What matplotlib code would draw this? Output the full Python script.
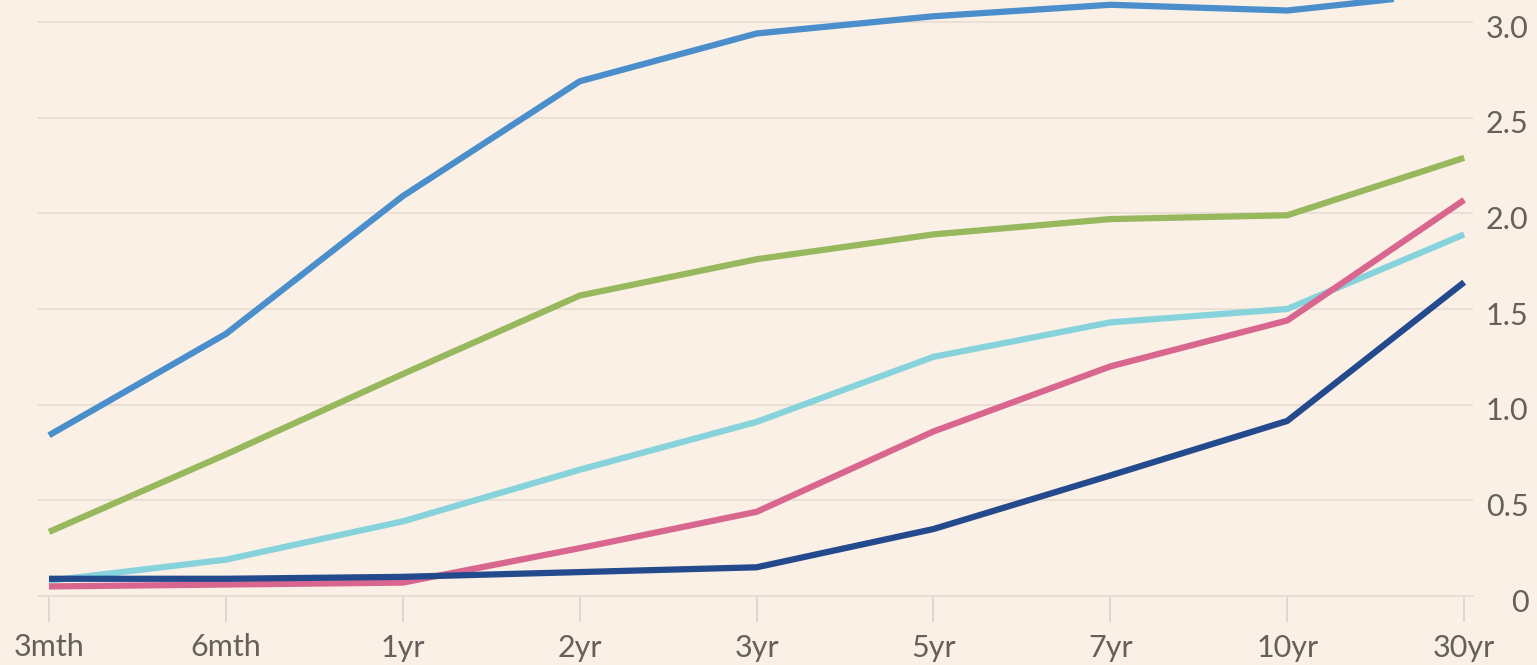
import matplotlib
matplotlib.use("Agg")
import matplotlib.pyplot as plt
import matplotlib.transforms as mtransforms

# Maturities along the curve
maturities = ["3mth", "6mth", "1yr", "2yr", "3yr", "5yr", "7yr", "10yr", "30yr"]

# Yield curves (%)
curve_blue = [0.84, 1.37, 2.09, 2.69, 2.94, 3.03, 3.09, 3.06, 3.16]
curve_green = [0.335, 0.74, 1.16, 1.57, 1.76, 1.89, 1.97, 1.99, 2.29]
curve_cyan = [0.08, 0.19, 0.39, 0.66, 0.91, 1.25, 1.43, 1.50, 1.89]
curve_pink = [0.05, 0.06, 0.07, 0.25, 0.44, 0.86, 1.20, 1.44, 2.07]
curve_navy = [0.09, 0.09, 0.10, 0.125, 0.15, 0.35, 0.63, 0.915, 1.64]

y_ticks = [0, 0.5, 1.0, 1.5, 2.0, 2.5, 3.0]
y_labels = ["0", "0.5", "1.0", "1.5", "2.0", "2.5", "3.0"]

bg = "#faf0e6"
grid_col = "#e8ded4"
text_col = "#66605c"

plt.rcParams["font.family"] = ["Lato", "DejaVu Sans"]

W, H = 1537, 665
fig = plt.figure(figsize=(W / 100, H / 100), dpi=100, facecolor=bg)
ax = fig.add_axes([38 / W, 1 - 596 / H, (1473 - 38) / W, 596 / H])
ax.set_facecolor(bg)

x = list(range(len(maturities)))
series = [
    (curve_blue, "#4a8ecb"),
    (curve_green, "#98b85e"),
    (curve_cyan, "#87d3dc"),
    (curve_pink, "#d8668f"),
    (curve_navy, "#234a8c"),
]
for vals, col in series:
    ax.plot(x, vals, color=col, linewidth=4.5, solid_capstyle="butt",
            solid_joinstyle="round", zorder=3)

ax.set_xlim(-0.0622, 8.05)
ax.set_ylim(0, 3.115)

# y axis on the right, labels right-aligned and nudged just below the gridline
ax.yaxis.tick_right()
ax.set_yticks(y_ticks)
ax.set_yticklabels(y_labels)
ax.tick_params(axis="y", length=0, pad=40, labelsize=22, labelcolor=text_col)
shift = mtransforms.ScaledTranslation(0, -4 / 100, fig.dpi_scale_trans)
for lab in ax.get_yticklabels():
    lab.set_horizontalalignment("right")
    lab.set_transform(lab.get_transform() + shift)
ax.grid(axis="y", color=grid_col, linewidth=1.3, zorder=0)

ax.set_xticks(x)
ax.set_xticklabels(maturities)
ax.tick_params(axis="x", length=19, width=1.1, color="#d9d0c8", pad=8,
               labelsize=22, labelcolor=text_col)

for side in ["top", "left", "right"]:
    ax.spines[side].set_visible(False)
ax.spines["bottom"].set_color(grid_col)
ax.spines["bottom"].set_linewidth(1.3)

fig.savefig("out.png", dpi=100, facecolor=bg)
